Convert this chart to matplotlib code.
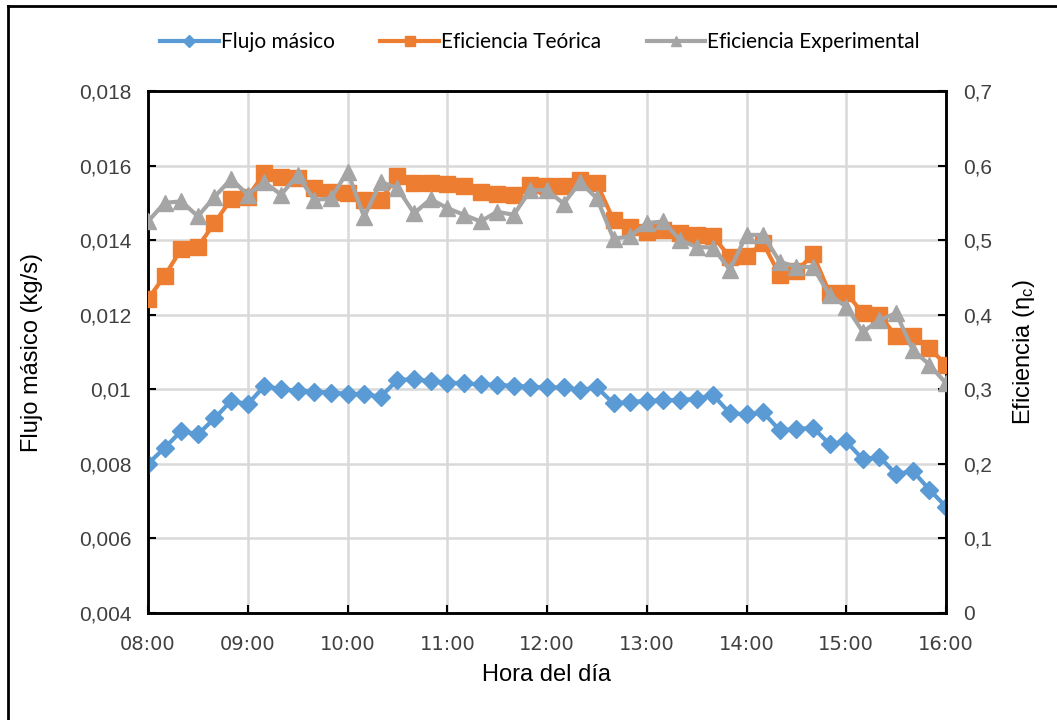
import numpy as np
import matplotlib
matplotlib.use("Agg")
import matplotlib.pyplot as plt
from matplotlib.lines import Line2D
from matplotlib.ticker import FuncFormatter

# Hora del día (horas decimales, cada 10 minutos de 08:00 a 16:00)
horas = 8 + np.arange(0, 481, 10) / 60.0

flujo = [0.00800, 0.00843, 0.00888, 0.00879, 0.00922, 0.00969, 0.00960, 0.01009,
         0.01000, 0.00996, 0.00994, 0.00991, 0.00988, 0.00987, 0.00980, 0.01025,
         0.01027, 0.01022, 0.01018, 0.01016, 0.01013, 0.01012, 0.01009, 0.01007,
         0.01005, 0.01005, 0.00998, 0.01005, 0.00962, 0.00966, 0.00969, 0.00971,
         0.00971, 0.00975, 0.00984, 0.00936, 0.00933, 0.00938, 0.00890, 0.00893,
         0.00897, 0.00853, 0.00860, 0.00812, 0.00819, 0.00772, 0.00781, 0.00731,
         0.00685]

ef_teorica = [0.421, 0.452, 0.488, 0.491, 0.523, 0.555, 0.558, 0.590, 0.585, 0.583,
              0.570, 0.565, 0.563, 0.554, 0.554, 0.586, 0.577, 0.576, 0.575, 0.573,
              0.564, 0.562, 0.561, 0.574, 0.573, 0.572, 0.581, 0.576, 0.527, 0.518,
              0.511, 0.514, 0.509, 0.507, 0.505, 0.477, 0.479, 0.496, 0.453, 0.458,
              0.481, 0.429, 0.429, 0.402, 0.400, 0.371, 0.371, 0.355, 0.333]

ef_experimental = [0.525, 0.550, 0.552, 0.532, 0.558, 0.582, 0.561, 0.578, 0.561, 0.587,
                   0.554, 0.556, 0.592, 0.531, 0.578, 0.570, 0.536, 0.555, 0.543, 0.534,
                   0.525, 0.538, 0.534, 0.567, 0.567, 0.549, 0.578, 0.556, 0.502, 0.505,
                   0.523, 0.525, 0.500, 0.491, 0.490, 0.460, 0.507, 0.507, 0.471, 0.464,
                   0.464, 0.426, 0.411, 0.377, 0.393, 0.402, 0.353, 0.333, 0.308]

ticks_izq = [0.004, 0.006, 0.008, 0.010, 0.012, 0.014, 0.016, 0.018]
etiquetas_izq = ["0,004", "0,006", "0,008", "0,01", "0,012", "0,014", "0,016", "0,018"]
ticks_der = [0, 0.1, 0.2, 0.3, 0.4, 0.5, 0.6, 0.7]
etiquetas_der = ["0", "0,1", "0,2", "0,3", "0,4", "0,5", "0,6", "0,7"]

azul = "#5B9BD5"
naranja = "#ED7D31"
gris = "#A5A5A5"
texto = "#404040"

plt.rcParams["font.family"] = ["Liberation Sans", "DejaVu Sans"]
plt.rcParams["mathtext.default"] = "regular"

fig = plt.figure(figsize=(10.57, 7.2), dpi=100)
ax = fig.add_axes([148 / 1057, 1 - 613 / 720, (946 - 148) / 1057, (613 - 91) / 720])
ax2 = ax.twinx()

l1, = ax.plot(horas, flujo, color=azul, lw=3, marker="D", ms=9.5, label="Flujo másico", zorder=3)
l2, = ax2.plot(horas, ef_teorica, color=naranja, lw=3, marker="s", ms=12, label="Eficiencia Teórica", zorder=3)
l3, = ax2.plot(horas, ef_experimental, color=gris, lw=3, marker="^", ms=12, label="Eficiencia Experimental", zorder=4)

ax.set_xlim(8, 16)
ax.set_ylim(0.004, 0.018)
ax2.set_ylim(0, 0.7)

ax.set_xticks(range(8, 17))
ax.xaxis.set_major_formatter(FuncFormatter(lambda v, p: "%02d:00" % int(round(v))))
ax.set_yticks(ticks_izq)
ax.set_yticklabels(etiquetas_izq)
ax2.set_yticks(ticks_der)
ax2.set_yticklabels(etiquetas_der)

ax.grid(True, color="#D9D9D9", lw=1.8, zorder=0)
ax.set_axisbelow(True)

for a in (ax, ax2):
    for s in a.spines.values():
        s.set_color("black")
        s.set_linewidth(1.8)
    a.tick_params(direction="in", length=6, width=1.5, colors="black",
                  labelcolor=texto, labelsize=15, pad=12)
ax.tick_params(axis="x", labelsize=14, pad=16)
for t in ax.get_xticklabels():
    t.set_family("DejaVu Sans")

ax.set_xlabel("Hora del día", fontsize=17, color="black", labelpad=7)
ax.set_ylabel("Flujo másico (kg/s)", fontsize=17, color="black", labelpad=26)
ax2.set_ylabel(r"Eficiencia (η$_{c}$)", fontsize=17, color="black", labelpad=14)

fig.legend(handles=[l1, l2, l3], loc="center", bbox_to_anchor=(540 / 1057, 1 - 42 / 720),
           ncol=3, frameon=False, handlelength=2.8, columnspacing=2.2,
           handletextpad=0.1, prop={"family": "Lato", "size": 15}, markerscale=0.65)

# borde exterior (solo izquierda y arriba visibles)
fig.add_artist(Line2D([8 / 1057, 8 / 1057], [0, 1 - 6 / 720], color="black", lw=2))
fig.add_artist(Line2D([8 / 1057, 1], [1 - 6 / 720, 1 - 6 / 720], color="black", lw=2))

fig.savefig("out.png", dpi=100)
